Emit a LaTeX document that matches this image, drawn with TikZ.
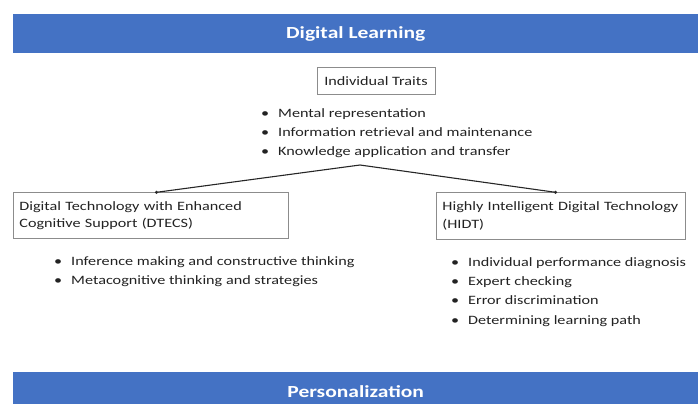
\documentclass[tikz,border=0pt]{standalone}
\usepackage{fontspec}
\setmainfont{Carlito}
\newfontfamily\bodyfont{Carlito}[FakeStretch=1.27]
\usetikzlibrary{arrows.meta}
\definecolor{officeblue}{HTML}{4472C4}
\definecolor{boxline}{HTML}{8C8C8C}
\definecolor{bodytext}{HTML}{222222}
\tikzset{
  banner/.style={fill=officeblue, draw=none, text=white, font=\bodyfont\fontsize{17}{20}\selectfont\bfseries,
    minimum height=39bp, minimum width=685bp, anchor=north west, inner sep=0pt},
  techbox/.style={draw=boxline, line width=0.9bp, anchor=north west, align=left, text=bodytext,
    font=\bodyfont\fontsize{12.8}{17.5}\selectfont, inner xsep=6bp, inner ysep=0pt},
  bulletlist/.style={anchor=north west, align=left, text=bodytext,
    font=\bodyfont\fontsize{12.8}{19.5}\selectfont, inner sep=0pt},
  link/.style={draw=black!85, line width=1.1bp, -{Circle[length=3bp]}},
}
\newcommand{\itm}{\makebox[17bp][l]{\textbullet}}
\begin{document}
\begin{tikzpicture}[x=1bp,y=-1bp]
\useasboundingbox (0,0) rectangle (698,403);

% banners
\node[banner] (learning) at (13,14) {Digital Learning};
\node[banner] (personal) at (13,372) {Personalization};

% individual traits
\node[draw=boxline, line width=0.9bp, minimum width=118bp, minimum height=27bp, text=bodytext,
  inner xsep=3bp, font=\bodyfont\fontsize{12.8}{14}\selectfont] (traits) at (376,81) {Individual Traits};
\node[bulletlist] (traitlist) at (261,108) {\itm Mental representation\\
  \itm Information retrieval and maintenance\\
  \itm Knowledge application and transfer};

% the two technology types
\node[techbox, text width=263bp, minimum height=46bp] (dtecs) at (13,192)
  {Digital Technology with Enhanced\\Cognitive Support (DTECS)};
\node[techbox, text width=237bp, minimum height=47bp] (hidt) at (436,192)
  {Highly Intelligent Digital Technology\\(HIDT)};

\node[bulletlist] (dteclist) at (54,256) {\itm Inference making and constructive thinking\\
  \itm Metacognitive thinking and strategies};
\node[bulletlist] (hidtlist) at (451,257) {\itm Individual performance diagnosis\\
  \itm Expert checking\\
  \itm Error discrimination\\
  \itm Determining learning path};

% branching connector
\coordinate (apex) at (360,165);
\coordinate (dtecsin) at (155,192.5);
\coordinate (hidtin) at (557,192.5);
\draw[link] (apex) -- (dtecsin);
\draw[link] (apex) -- (hidtin);
\end{tikzpicture}
\end{document}
